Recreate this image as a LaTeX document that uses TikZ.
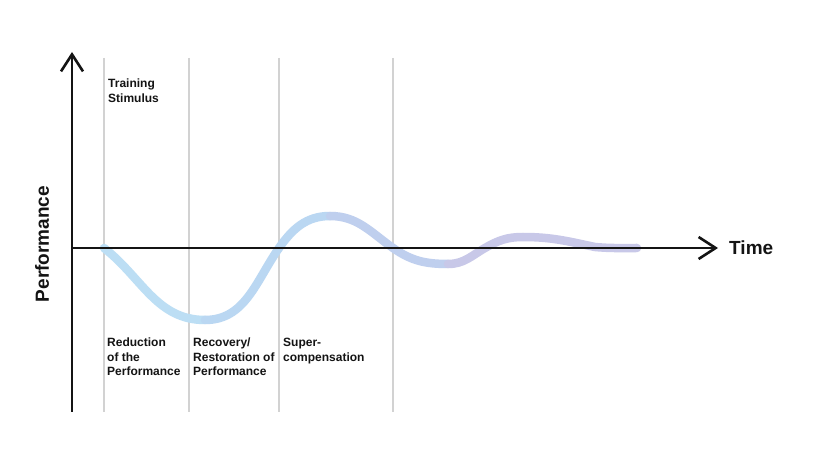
\documentclass[tikz,border=0pt]{standalone}
\usepackage{fontspec}
\setmainfont{Liberation Sans}
\usetikzlibrary{arrows.meta}
\definecolor{gridgray}{HTML}{D2D2D2}
\definecolor{axisblack}{HTML}{141414}
\definecolor{cA}{HTML}{BCDEF4}
\definecolor{cB}{HTML}{BAD7F2}
\definecolor{cC}{HTML}{BFCFEE}
\definecolor{cD}{HTML}{C8C8E8}
\tikzset{
  gridline/.style={draw=gridgray, line width=1.5pt},
  axisline/.style={draw=axisblack, line width=2.5pt, -{Straight Barb[length=17pt,width=22pt,line width=2.6pt]}},
  curveline/.style={line width=8.5pt, line cap=round},
  lbl/.style={anchor=north west, inner sep=0pt, align=left, font=\fontsize{12}{14.5}\selectfont\bfseries, text=axisblack},
  axlbl/.style={inner sep=0pt, font=\fontsize{19}{22}\selectfont\bfseries, text=axisblack}
}
\begin{document}
\begin{tikzpicture}[x=1pt,y=1pt]
\useasboundingbox (0,0) rectangle (820,461);
\fill[white] (0,0) rectangle (820,461);
% coordinates
\coordinate (O) at (72,213);
\coordinate (ytop) at (72,409);
\coordinate (ybot) at (72,49);
\coordinate (xend) at (718,213);
\coordinate (g1t) at (104,403); \coordinate (g1b) at (104,49);
\coordinate (g2t) at (189,403); \coordinate (g2b) at (189,49);
\coordinate (g3t) at (279,403); \coordinate (g3b) at (279,49);
\coordinate (g4t) at (393,403); \coordinate (g4b) at (393,49);
% grid lines
\draw[gridline] (g1t) -- (g1b);
\draw[gridline] (g2t) -- (g2b);
\draw[gridline] (g3t) -- (g3b);
\draw[gridline] (g4t) -- (g4b);
% curve
\coordinate (p0) at (104,213);
\coordinate (p1) at (205,141);
\coordinate (p2) at (279,213);
\coordinate (p3) at (330,245);
\coordinate (p4) at (393,213);
\coordinate (p5) at (448,197);
\coordinate (p6) at (485,213);
\coordinate (p7) at (523,224);
\coordinate (p8) at (595,214);
\coordinate (p9) at (637,213);
\draw[curveline, draw=cA] (p0) to[out=-38,in=180] (p1);
\draw[curveline, draw=cB] (p1) to[out=0,in=235] (p2) to[out=55,in=180] (p3);
\draw[curveline, draw=cC] (p3) to[out=0,in=145] (p4) to[out=-35,in=180] (p5);
\draw[curveline, draw=cD] (p5) to[out=0,in=210] (p6) to[out=30,in=180] (p7) to[out=0,in=168] (p8) to[out=-5,in=180] (p9);
% axes
\draw[axisline, line cap=butt] (ybot) -- (ytop);
\draw[axisline] (O) -- (xend);
% labels
\node[axlbl, anchor=west] (time) at (729,213) {Time};
\node[axlbl, rotate=90] (perf) at (42,217) {Performance};
\node[lbl] (stim) at (108,382) {Training\\Stimulus};
\node[lbl] (red) at (107,123) {Reduction\\of the\\Performance};
\node[lbl] (rec) at (193,123) {Recovery/\\Restoration of\\Performance};
\node[lbl] (sup) at (283,123) {Super-\\compensation};
\end{tikzpicture}
\end{document}
